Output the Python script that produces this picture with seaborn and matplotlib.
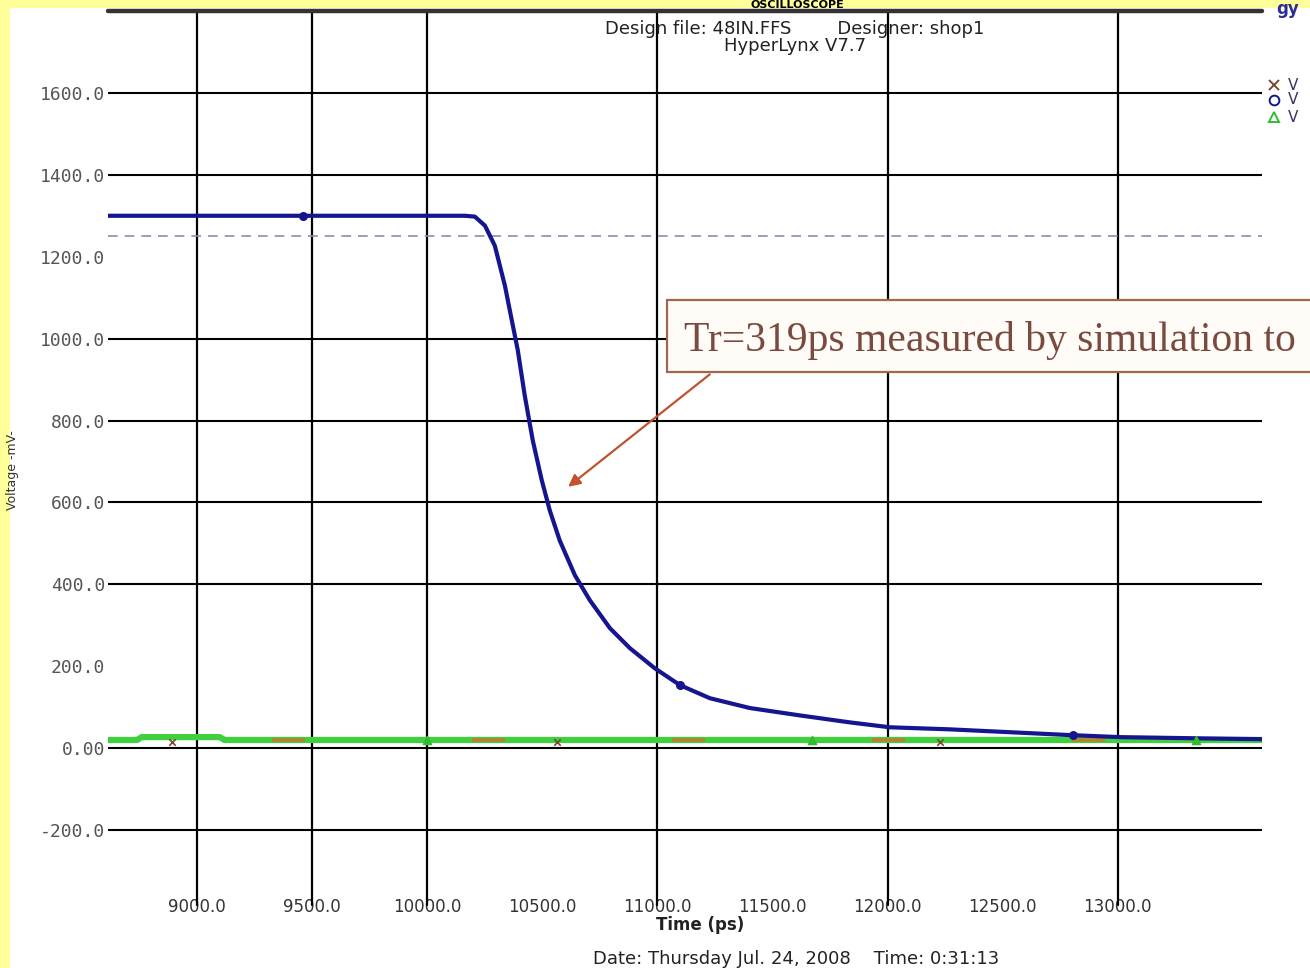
import matplotlib
matplotlib.use("Agg")
import matplotlib.pyplot as plt
from matplotlib.lines import Line2D
from matplotlib.patches import Rectangle
import seaborn as sns
import numpy as np

# ---------------- data ----------------
blue_t = [8614, 10164, 10207, 10251, 10294, 10338, 10368, 10394, 10424, 10459,
          10498, 10533, 10576, 10642, 10707, 10794, 10881, 10989, 11098, 11228,
          11402, 11619, 11836, 12010, 12270, 12531, 12791, 13009, 13356, 13625]
blue_v = [1300, 1300, 1298, 1276, 1227, 1129, 1044, 971, 861, 751,
          654, 580, 507, 422, 361, 293, 244, 195, 154, 122,
          98, 80, 63, 51, 46, 39, 32, 27, 24, 22]
blue_mk_t = [9460, 11098, 12804]
blue_mk_v = [1300, 154, 32]

green_t = [8614, 8740, 8760, 9100, 9120, 13625]
green_v = [20, 20, 27, 27, 20, 20]
green_mk_t = [10000, 11672, 13339]
green_mk_v = [20, 20, 20]

red_t = [8614, 13625]
red_v = [19, 19]
red_mk_t = [8891, 10563, 12227]
red_mk_v = [16, 16, 16]

thresh_t = [8614, 13625]
thresh_v = [1250, 1250]

ytick_vals = [1600, 1400, 1200, 1000, 800, 600, 400, 200, 0, -200]
ytick_labels = ["1600.0", "1400.0", "1200.0", "1000.0", "800.0", "600.0",
                "400.0", "200.0", "0.00", "-200.0"]
xtick_vals = [9000, 9500, 10000, 10500, 11000, 11500, 12000, 12500, 13000]
xtick_labels = ["9000.0", "9500.0", "10000.0", "10500.0", "11000.0",
                "11500.0", "12000.0", "12500.0", "13000.0"]
hgrid_vals = [1600, 1400, 1000, 800, 600, 400, 0, -200]
vgrid_vals = [9000, 9500, 10000, 11000, 12000, 13000]

# ---------------- style ----------------
sns.set_style("white")
plt.rcParams['font.family'] = ['DejaVu Sans']
plt.rcParams['lines.scale_dashes'] = False

W, H = 1310, 968
fig = plt.figure(figsize=(W / 100, H / 100), dpi=100)
fig.patch.set_facecolor("#FFFF99")
# white screenshot area
fig.add_artist(Rectangle((10 / W, 0), 1 - 10 / W, 1 - 8 / H,
                         transform=fig.transFigure, facecolor="white",
                         edgecolor="none", zorder=0))

ax = fig.add_axes([108 / W, (H - 912) / H, (1262 - 108) / W, (912 - 11) / H])
ax.set_facecolor("none")
for s in ax.spines.values():
    s.set_visible(False)
ax.set_xlim(8614, 13626)
ax.set_ylim(-400, 1800)

# grid
for v in hgrid_vals:
    ax.axhline(v, color="black", lw=1.5, zorder=1)
for t in vgrid_vals:
    ax.plot([t, t], [-383, 1800], color="black", lw=1.6, zorder=1)
ax.axhline(1800, color="#333333", lw=3.2, zorder=2, clip_on=False)

# threshold dashed line
ax.plot(thresh_t, thresh_v, color="#8a8fb0", lw=1.2, ls=(0, (7, 5)), zorder=2)

# traces
sns.lineplot(x=green_t, y=green_v, ax=ax, color="#3fcf3f", lw=4.5, zorder=3,
             sort=False, estimator=None)
sns.lineplot(x=red_t, y=red_v, ax=ax, color="#b8822e", lw=2.6, zorder=4,
             sort=False, estimator=None, ls=(26, (24, 120)))
sns.lineplot(x=blue_t, y=blue_v, ax=ax, color="#15158f", lw=3, zorder=5,
             sort=False, estimator=None)

ax.scatter(blue_mk_t, blue_mk_v, marker="o", s=30, color="#15158f", zorder=6)
ax.scatter(green_mk_t, green_mk_v, marker="^", s=35, color="#33bb33", zorder=6)
ax.scatter(red_mk_t, red_mk_v, marker="x", s=22, color="#7a4a30", lw=1.2, zorder=6)

# ticks
ax.set_yticks(ytick_vals)
ax.set_yticklabels(ytick_labels, family="DejaVu Sans Mono", fontsize=13,
                   color="#555555")
ax.set_xticks(xtick_vals)
ax.set_xticklabels(xtick_labels, fontsize=12, color="#333333")
ax.tick_params(axis="y", length=0, pad=2)
ax.tick_params(axis="x", length=0, pad=-10)
ax.set_xlabel("")
ax.set_ylabel("")

# annotation box & arrow
fig.add_artist(Rectangle((667 / W, (H - 372) / H), 700 / W, 72 / H,
                         transform=fig.transFigure, facecolor="#fffbf7",
                         edgecolor="#a0674a", lw=1.6, zorder=10))
fig.text(684 / W, (H - 351) / H, "Tr=319ps measured by simulation to",
         family="Liberation Serif", fontsize=30, color="#7a4a3e",
         va="baseline", ha="left", zorder=11)
ax.annotate("", xy=(10603, 634), xytext=(11237, 917),
            arrowprops=dict(arrowstyle="-|>", color="#c0522e", lw=1.6,
                            mutation_scale=18), zorder=9)

# header / footer texts
fig.text(797 / W, 1.0, "OSCILLOSCOPE", ha="center", va="top",
         fontsize=8, fontweight="bold", color="black")
fig.text(1288 / W, 1.0, "gy", ha="center", va="top",
         fontsize=12, fontweight="bold", color="#2d2d99")
fig.text(795 / W, (H - 29) / H, "Design file: 48IN.FFS        Designer: shop1",
         ha="center", va="center", fontsize=13, color="#222222")
fig.text(795 / W, (H - 46) / H, "HyperLynx V7.7", ha="center", va="center",
         fontsize=13, color="#222222")
fig.text(700 / W, (H - 925) / H, "Time (ps)", ha="center", va="center",
         fontsize=12, color="#222222", fontweight="bold")
fig.text(796 / W, (H - 959) / H,
         "Date: Thursday Jul. 24, 2008    Time: 0:31:13",
         ha="center", va="center", fontsize=13, color="#222222")
fig.text(13 / W, (H - 470) / H, "Voltage -mV-", rotation=90, ha="center",
         va="center", fontsize=9, color="#333333")

# legend at right
leg_items = [("x", "#7a4a30", 85), ("o", "#15158f", 100), ("^", "#33bb33", 117)]
for mk, col, yp in leg_items:
    fig.add_artist(Line2D([1274 / W], [(H - yp) / H], marker=mk, color=col,
                          markersize=7, transform=fig.transFigure,
                          markerfacecolor="none", mew=1.4))
    fig.text(1293 / W, (H - yp) / H, "V", ha="center", va="center",
             fontsize=11, color="#333366")

fig.savefig("out.png", dpi=100, facecolor=fig.get_facecolor())
